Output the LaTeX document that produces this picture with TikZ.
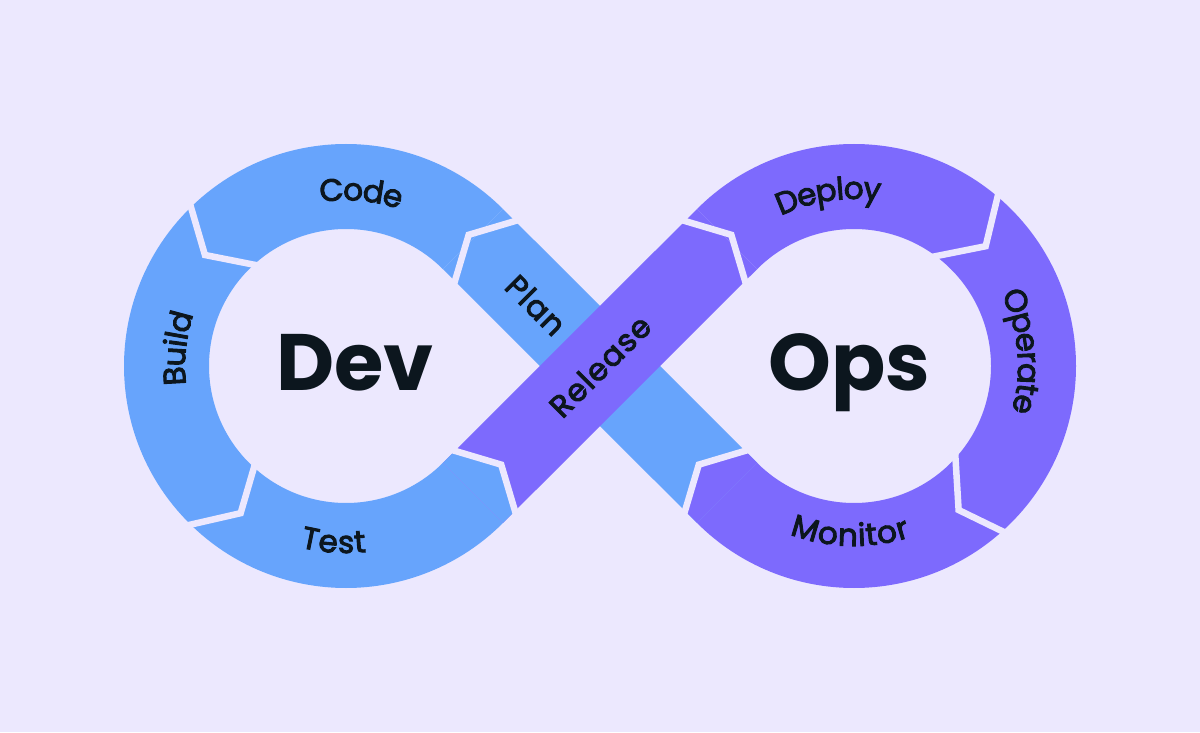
\documentclass[tikz,border=0pt]{standalone}
\usepackage{fontspec}
\setmainfont{Poppins}
\newfontfamily\lblfam{Poppins}[FakeBold=3,LetterSpace=4]
\usetikzlibrary{calc,decorations.text}
\definecolor{bg}{RGB}{236,232,254}
\definecolor{devblue}{RGB}{103,164,252}
\definecolor{opspurple}{RGB}{125,106,253}
\definecolor{ink}{RGB}{12,22,30}
\newcommand\lblfont{\lblfam\fontsize{31}{31}\selectfont}
\def\rIn{137}
\def\rOut{222}
\begin{document}
\begin{tikzpicture}[x=1pt,y=1pt,
  gap/.style={draw=bg,line width=6.5pt,line join=miter,line cap=butt},
  bigword/.style={font=\fontsize{80}{80}\selectfont\bfseries,text=ink,inner sep=0pt},
  bandword/.style={font=\lblfont,text=ink,inner sep=0pt},
  arcword/.style={decorate,decoration={text along path,text={|\lblfont|#1},text color=ink,text align=center,raise=-11pt}}]
\fill[bg] (0,0) rectangle (1200,732);
\useasboundingbox (0,0) rectangle (1200,732);
\coordinate (C1) at (346,366);
\coordinate (C2) at (854,366);
\coordinate (X) at (600,366);

% blue: Plan band and left ring
\fill[devblue] ($(C1)+(45:\rIn)$) -- ($(C1)+(45:\rOut)$) -- ($(C2)+(225:\rIn)$) -- ($(C2)+(225:\rOut)$) -- cycle;
\fill[devblue] ($(C1)+(45:\rOut)$) arc[start angle=45,end angle=315,radius=\rOut]
  -- ($(C1)+(315:\rIn)$) arc[start angle=315,end angle=45,radius=\rIn] -- cycle;
% purple: Release band and right ring
\fill[opspurple] ($(C1)+(315:\rIn)$) -- ($(C1)+(315:\rOut)$) -- ($(C2)+(135:\rIn)$) -- ($(C2)+(135:\rOut)$) -- cycle;
\fill[opspurple] ($(C2)+(135:\rOut)$) arc[start angle=135,end angle=-135,radius=\rOut]
  -- ($(C2)+(-135:\rIn)$) arc[start angle=-135,end angle=135,radius=\rIn] -- cycle;
% Test tip onto the Release band
\fill[devblue] ($(C1)+(315:\rIn)$) -- ($(C1)+(315:\rOut)$) -- ($(C1)+(315:\rOut)+(45:17)$)
  -- ($(C1)+(315:179.5)+(45:40)$) -- ($(C1)+(315:\rIn)+(45:17)$) -- cycle;
% Monitor tip onto the Plan band
\fill[opspurple] ($(C2)+(225:\rIn)$) -- ($(C2)+(225:\rOut)$) -- ($(C2)+(225:\rOut)+(135:17)$)
  -- ($(C2)+(225:179.5)+(135:40)$) -- ($(C2)+(225:\rIn)+(135:17)$) -- cycle;

% chevron separators
\coordinate (b1o) at ($(C1)+(45:\rOut)+(315:17)$);
\coordinate (b1k) at ($(C1)+(45:179.5)+(135:6)$);
\coordinate (b1i) at ($(C1)+(45:\rIn)+(315:17)$);
\coordinate (b2o) at ($(C1)+(134.3:\rOut)$);
\coordinate (b2k) at ($(C1)+(141.8:179.5)$);
\coordinate (b2i) at ($(C1)+(132.3:\rIn)$);
\coordinate (b3o) at ($(C1)+(225.6:\rOut)$);
\coordinate (b3k) at ($(C1)+(234.4:181)$);
\coordinate (b3i) at ($(C1)+(227.8:\rIn)$);
\coordinate (b4o) at ($(C1)+(315:\rOut)+(45:17)$);
\coordinate (b4k) at ($(C1)+(315:179.5)+(45:40)$);
\coordinate (b4i) at ($(C1)+(315:\rIn)+(45:17)$);
\coordinate (b5o) at ($(C2)+(135:\rOut)+(225:17)$);
\coordinate (b5k) at ($(C2)+(135:179.5)+(45:6)$);
\coordinate (b5i) at ($(C2)+(135:\rIn)+(225:17)$);
\coordinate (b6o) at ($(C2)+(49.7:\rOut)$);
\coordinate (b6k) at ($(C2)+(42.3:178)$);
\coordinate (b6i) at ($(C2)+(53.3:\rIn)$);
\coordinate (b7o) at ($(C2)+(-48.1:\rOut)$);
\coordinate (b7k) at ($(C2)+(-54:178)$);
\coordinate (b7i) at ($(C2)+(-42.2:\rIn)$);
\coordinate (b8o) at ($(C2)+(225:\rOut)+(135:17)$);
\coordinate (b8k) at ($(C2)+(225:179.5)+(135:40)$);
\coordinate (b8i) at ($(C2)+(225:\rIn)+(135:17)$);
\foreach \b in {1,...,8}{
  \draw[gap] ($(b\b o)!-9pt!(b\b k)$) -- (b\b k) -- ($(b\b i)!-9pt!(b\b k)$);
}

% labels on the rings
\path[arcword=Code] ($(C1)+(130:176.7)$) arc[start angle=130,end angle=40,radius=176.7];
\path[arcword=Build] ($(C1)+(219:172)$) arc[start angle=219,end angle=129,radius=172];
\path[arcword=Test] ($(C1)+(221:176)$) arc[start angle=221,end angle=311,radius=176];
\path[arcword=Deploy] ($(C2)+(143.5:178)$) arc[start angle=143.5,end angle=53.5,radius=178];
\path[arcword=Operate] ($(C2)+(50:175)$) arc[start angle=50,end angle=-40,radius=175];
\path[arcword=Monitor] ($(C2)+(223.6:169)$) arc[start angle=223.6,end angle=313.6,radius=169];

% labels on the bands
\node[bandword,rotate=-45] (plan) at (536,427) {Plan};
\node[bandword,rotate=45] (release) at (600,366) {Release};

% centre words
\node[bigword,anchor=base] (dev) at (355,341.5) {Dev};
\node[bigword,anchor=base] (ops) at (849.5,341.5) {Ops};
\end{tikzpicture}
\end{document}
